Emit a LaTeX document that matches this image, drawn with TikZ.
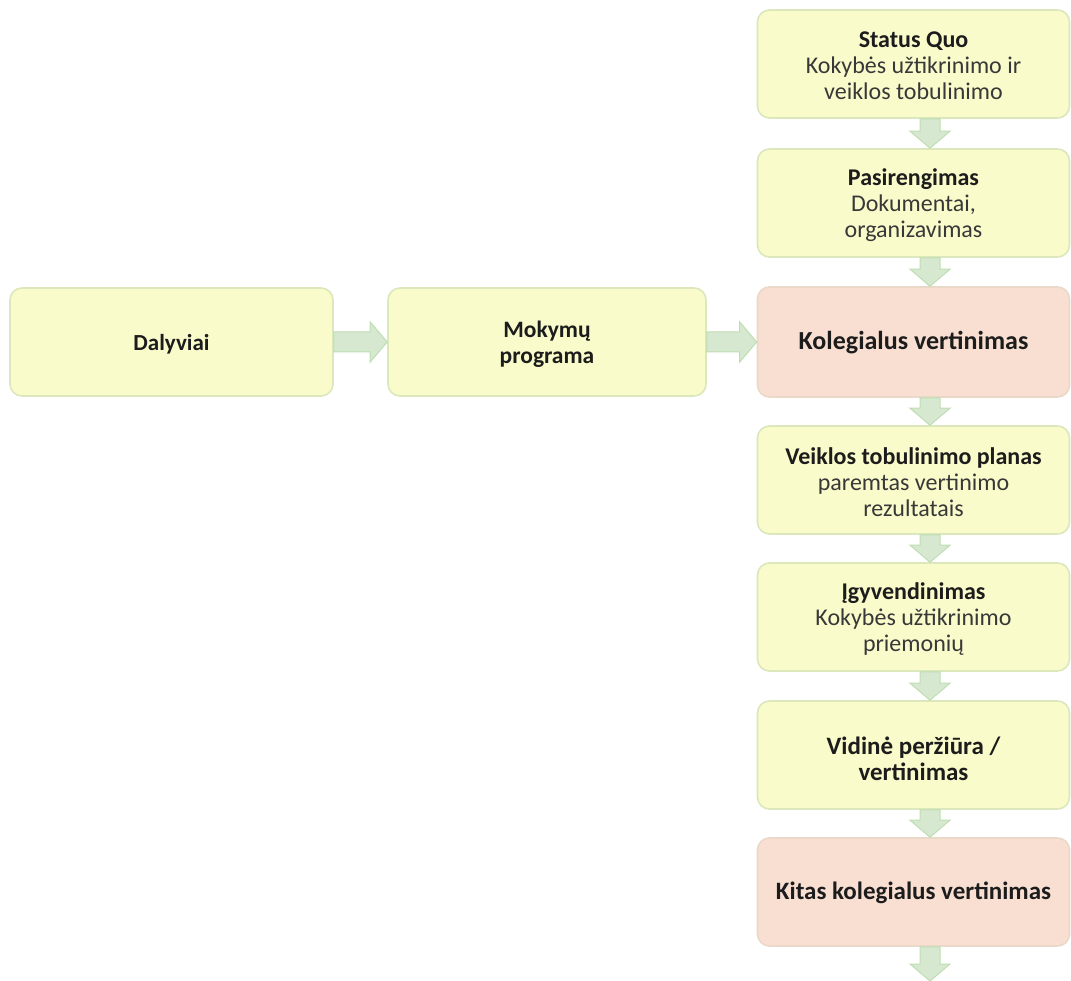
\documentclass[tikz,border=0pt]{standalone}
\usepackage{fontspec}
\setmainfont{Carlito}
\usetikzlibrary{calc}
\definecolor{boxfill}{HTML}{FAFBCB}
\definecolor{boxedge}{HTML}{DCE8BC}
\definecolor{pinkfill}{HTML}{F8DFD2}
\definecolor{pinkedge}{HTML}{EAD8C8}
\definecolor{arrfill}{HTML}{D6E9D0}
\definecolor{arredge}{HTML}{BFDDB2}
\definecolor{textc}{HTML}{1C1C1C}
\definecolor{textl}{HTML}{383838}
\newcommand\fatdown[2]{%
  \filldraw[fatarrow] let \p1=(#1 -| ax), \p2=(#2 -| ax) in
    (\x1-10pt,\y1) -- (\x1+10pt,\y1) -- (\x1+10pt,\y2+17pt) -- (\x1+20pt,\y2+17pt)
    -- (\x1,\y2) -- (\x1-20pt,\y2+17pt) -- (\x1-10pt,\y2+17pt) -- cycle;}
\newcommand\fatright[2]{%
  \filldraw[fatarrow] let \p1=(#1), \p2=(#2) in
    (\x1,\y1+10pt) -- (\x2-17pt,\y1+10pt) -- (\x2-17pt,\y1+20pt) -- (\x2,\y1)
    -- (\x2-17pt,\y1-20pt) -- (\x2-17pt,\y1-10pt) -- (\x1,\y1-10pt) -- cycle;}
\begin{document}
\begin{tikzpicture}[x=1pt,y=-1pt,
  box/.style={draw=boxedge, fill=boxfill, line width=1.6pt, rounded corners=12pt,
    minimum width=312pt, minimum height=108pt, inner sep=0pt},
  pinkbox/.style={box, draw=pinkedge, fill=pinkfill},
  lbl/.style={align=center, text=textl, inner sep=0pt,
    font=\fontsize{24}{26}\selectfont},
  fatarrow/.style={fill=arrfill, draw=arredge, line width=1pt, line join=miter}]
\useasboundingbox[fill=white] (0,0) rectangle (1071,981);
\coordinate (ax) at (930,0);
\coordinate (endp) at (930,981);
% left row
\node[box, minimum width=323pt] (dal) at (171.5,342) {};
\node[lbl, text=textc, font=\fontsize{23}{25}\selectfont\bfseries] (dalt) at ($(dal)+(0,2)$) {Dalyviai};
\node[box, minimum width=318pt] (mok) at (547,342) {};
\node[lbl, text=textc, font=\fontsize{23.5}{26}\selectfont\bfseries] (mokt) at ($(mok)+(0,2)$) {Mokymų\\programa};
% right column
\node[box] (sq) at (913.5,64) {};
\node[lbl] (sqt) at ($(sq)+(0,2)$) {\textcolor{textc}{\bfseries Status Quo}\\Kokybės užtikrinimo ir\\veiklos tobulinimo};
\node[box] (pas) at (913.5,203) {};
\node[lbl] (past) at ($(pas)+(0,2)$) {\textcolor{textc}{\bfseries Pasirengimas}\\Dokumentai,\\organizavimas};
\node[pinkbox, minimum height=110pt] (kol) at (913.5,342) {};
\node[lbl, text=textc, font=\fontsize{26}{28}\selectfont\bfseries] (kolt) at ($(kol)+(0,1)$) {Kolegialus vertinimas};
\node[box] (vei) at (913.5,480) {};
\node[lbl] (veit) at ($(vei)+(0,2)$) {\textcolor{textc}{\bfseries Veiklos tobulinimo planas}\\paremtas vertinimo\\rezultatais};
\node[box] (igy) at (913.5,617) {};
\node[lbl] (igyt) at ($(igy)+(0,2)$) {\textcolor{textc}{\bfseries Įgyvendinimas}\\Kokybės užtikrinimo\\priemonių};
\node[box] (vid) at (913.5,755) {};
\node[lbl, text=textc, font=\fontsize{25}{26}\selectfont\bfseries] (vidt) at ($(vid)+(0,4)$) {Vidinė peržiūra /\\vertinimas};
\node[pinkbox] (kit) at (913.5,892) {};
\node[lbl, text=textc, font=\fontsize{25}{27}\selectfont\bfseries] (kitt) at ($(kit)+(0,1)$) {Kitas kolegialus vertinimas};
% connectors
\fatright{dal.east}{mok.west}
\fatright{mok.east}{kol.west}
\fatdown{sq.south}{pas.north}
\fatdown{pas.south}{kol.north}
\fatdown{kol.south}{vei.north}
\fatdown{vei.south}{igy.north}
\fatdown{igy.south}{vid.north}
\fatdown{vid.south}{kit.north}
\fatdown{kit.south}{endp}
\end{tikzpicture}
\end{document}
